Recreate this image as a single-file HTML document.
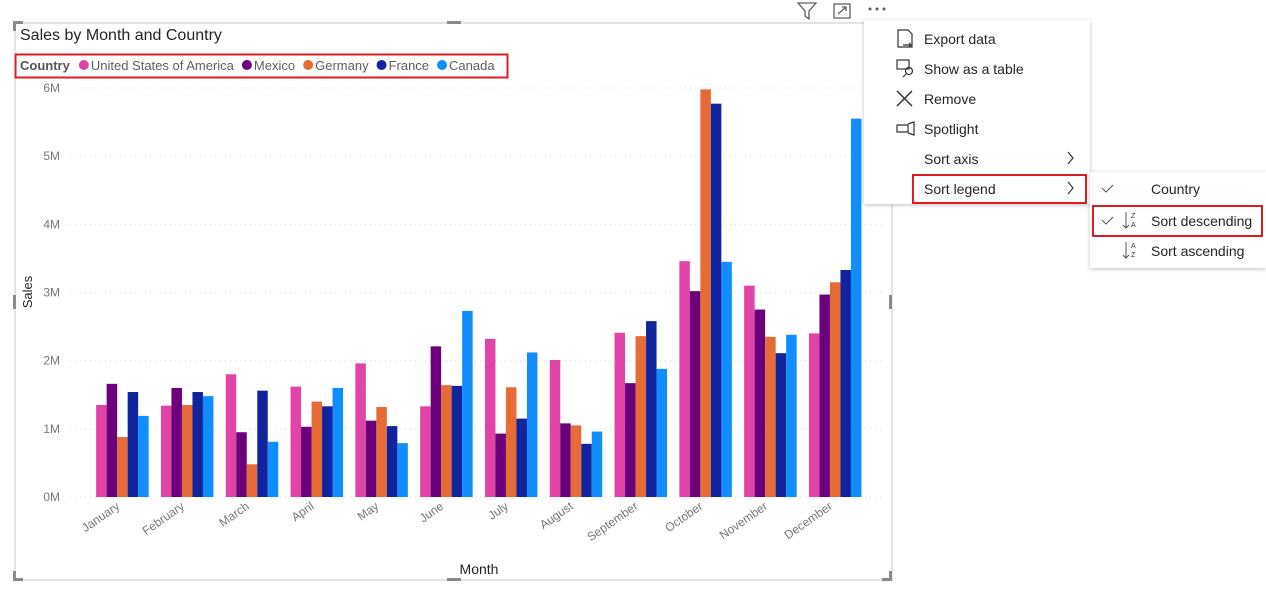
<!DOCTYPE html>
<html><head><meta charset="utf-8">
<style>
body{margin:0;width:1266px;height:607px;background:#fff;overflow:hidden;font-family:"Liberation Sans",sans-serif;}
svg{display:block}
</style></head><body>
<svg id="chart" width="1266" height="607">
<rect x="15" y="23" width="877" height="557" fill="#fff" stroke="#c8c8c8"/>
<g fill="#8a8a8a">
<rect x="13" y="21" width="10" height="3"/><rect x="13" y="21" width="3" height="10"/>
<rect x="447" y="21" width="14" height="3"/><rect x="447" y="578" width="14" height="3"/>
<rect x="13" y="578" width="10" height="3"/><rect x="13" y="571" width="3" height="10"/>
<rect x="882" y="578" width="10" height="3"/><rect x="889" y="571" width="3" height="10"/>
<rect x="13" y="295" width="3" height="14"/><rect x="889" y="295" width="3" height="14"/>
</g>
<text x="20" y="40" font-size="16" fill="#252423">Sales by Month and Country</text>
<rect x="15.5" y="54.5" width="492" height="23" fill="none" stroke="#e01b24" stroke-width="2"/>
<g id="legend" font-size="13" fill="#605e5c"></g>
<g id="grid"></g><g id="bars"></g><g id="xlabels"></g>
<text transform="translate(32,292) rotate(-90)" text-anchor="middle" font-size="13" fill="#252423">Sales</text>
<text x="479" y="574" text-anchor="middle" font-size="14" fill="#252423">Month</text>
<g stroke="#605e5c" fill="none" stroke-width="1.3">
<path d="M798 3 H816 L809 11 V19 L805 16 V11 Z"/>
<path d="M834 4 H850 V18 H834 Z M838 14 L846 7 M842 7 H846 V11"/>
</g>
<g fill="#605e5c"><circle cx="870" cy="9" r="1.5"/><circle cx="877" cy="9" r="1.5"/><circle cx="884" cy="9" r="1.5"/></g>
<defs><filter id="sh" x="-10%" y="-10%" width="120%" height="130%"><feDropShadow dx="0" dy="1" stdDeviation="2" flood-opacity="0.25"/></filter></defs>
<g>
<rect x="864" y="20" width="226" height="184" fill="#fff" filter="url(#sh)"/>
<g font-size="14" fill="#252423">
<text x="924" y="44">Export data</text>
<text x="924" y="74">Show as a table</text>
<text x="924" y="104">Remove</text>
<text x="924" y="134">Spotlight</text>
<text x="924" y="164">Sort axis</text>
<text x="924" y="194">Sort legend</text>
</g>
<g stroke="#333" fill="none" stroke-width="1.2">
<path d="M898 30 H908 L912 34 V47 H898 Z M903 45 H911 M909 43 L911 45 L909 47"/>
<rect x="897" y="60" width="12" height="9"/><circle cx="909" cy="71" r="3.5"/><path d="M906 74 L903 77"/>
<path d="M897 91 L912 106 M912 91 L897 106" stroke-width="1.5"/>
<path d="M897 125 H908 V132 H897 Z M908 124 L914 122 V135 L908 133"/>
<path d="M1068 152 L1073 158 L1068 164 M1068 182 L1073 188 L1068 194"/>
</g>
<rect x="913" y="175" width="173" height="28" fill="none" stroke="#e01b24" stroke-width="2"/>
<rect x="1090" y="172" width="176" height="96" fill="#fff" filter="url(#sh)"/>
<g font-size="14" fill="#252423">
<text x="1151" y="194">Country</text>
<text x="1151" y="226">Sort descending</text>
<text x="1151" y="256">Sort ascending</text>
</g>
<g stroke="#555" fill="none" stroke-width="1"><path d="M1102 188 L1106 192 L1113 185 M1102 220 L1106 224 L1113 217"/>
<path d="M1126 212 V228 M1123 225 L1126 228 L1129 225 M1126 242 V258 M1123 255 L1126 258 L1129 255"/></g>
<g font-size="7" fill="#333"><text x="1131" y="218">Z</text><text x="1131" y="227">A</text><text x="1131" y="248">A</text><text x="1131" y="257">Z</text></g>
<rect x="1093" y="206" width="169" height="30" fill="none" stroke="#e01b24" stroke-width="2"/>
</g>
</svg>
<script>
const months=["January","February","March","April","May","June","July","August","September","October","November","December"];
const countries=["United States of America","Mexico","Germany","France","Canada"];
const colors=["#E044A7","#6B007B","#E66C37","#12239E","#118DFF"];
const usa=[1.35,1.34,1.80,1.62,1.96,1.33,2.32,2.01,2.41,3.46,3.10,2.40];
const mexico=[1.66,1.60,0.95,1.03,1.12,2.21,0.93,1.08,1.67,3.02,2.75,2.97];
const germany=[0.88,1.35,0.48,1.40,1.32,1.64,1.61,1.05,2.36,5.98,2.35,3.15];
const france=[1.54,1.54,1.56,1.33,1.04,1.63,1.15,0.78,2.58,5.77,2.11,3.33];
const canada=[1.19,1.48,0.81,1.60,0.79,2.73,2.12,0.96,1.88,3.45,2.38,5.55];
const yTicks=[0,1,2,3,4,5,6];
const series=[usa,mexico,germany,france,canada];
const NS="http://www.w3.org/2000/svg";
const x0=90,step=64.8,yBase=497,yTop=88,yMax=6;
const y=v=>yBase-(v/yMax)*(yBase-yTop);
const xc=i=>x0+step*(i+0.5);
function mk(t,a,p){const e=document.createElementNS(NS,t);for(const k in a)e.setAttribute(k,a[k]);p.appendChild(e);return e;}
const grid=document.getElementById('grid');
yTicks.forEach(t=>{
 const l=mk('line',{x1:70,x2:885,y1:y(t),y2:y(t),stroke:"#d6d6d6","stroke-dasharray":"1 4"},grid);
 
 
 const tx=mk('text',{x:60,y:y(t)+4,"text-anchor":"end","font-size":12,fill:"#777"},grid);
 tx.textContent=t+"M";
 
 
});
const bars=document.getElementById('bars');
const bw=10.5;
months.forEach((m,i)=>{
 series.forEach((s,j)=>{
  const bx=xc(i)-bw*2.5+j*bw;
  const r=mk('rect',{x:bx,y:y(s[i]),width:bw,height:yBase-y(s[i]),fill:colors[j]},bars);
  
  
 });
 const t=mk('text',{transform:`translate(${xc(i)-2},${508}) rotate(-35)`,"text-anchor":"end","font-size":12,fill:"#777"},document.getElementById('xlabels'));
 t.textContent=m;
 
 
});
const lg=document.getElementById('legend');
let lx=20;
const lt=mk('text',{x:lx,y:70,"font-weight":"bold",fill:"#555"},lg);lt.textContent="Country";


lx+=lt.getComputedTextLength()+9;
countries.forEach((c,j)=>{
 const g=mk('g',{},lg);
 
 
 mk('circle',{cx:lx+5,cy:65,r:5,fill:colors[j]},g);
 const t=mk('text',{x:lx+12,y:70},g);t.textContent=c;
 lx+=12+t.getComputedTextLength()+8;
});
</script>
</body></html>
